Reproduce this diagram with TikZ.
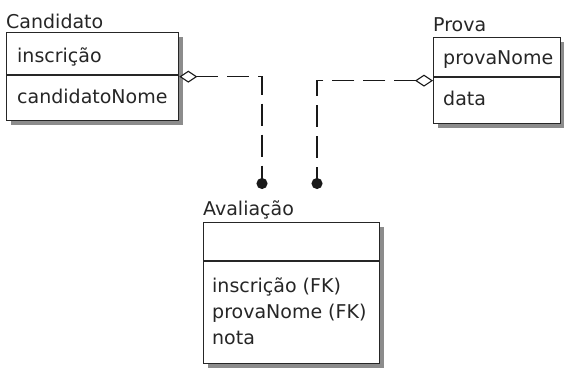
\documentclass[tikz,border=0pt]{standalone}
\usepackage{fontspec}
\setmainfont{DejaVu Sans}
\usetikzlibrary{arrows.meta,shadows,positioning}

\begin{document}
\begin{tikzpicture}[
  x=1pt,y=-1pt,
  line join=miter,
  entity/.style={draw=black!85,fill=white,line width=1.3pt,anchor=north west,
    inner sep=0pt,
    drop shadow={shadow xshift=4.5pt,shadow yshift=-4.5pt,fill=black!45,opacity=1}},
  divider/.style={draw=black!85,line width=1.3pt},
  entname/.style={anchor=base west,inner sep=0pt,text=black!85,font=\fontsize{19}{22}\selectfont},
  attr/.style={anchor=base west,inner sep=0pt,text=black!85,font=\fontsize{19}{22}\selectfont},
  relline/.style={black!90,line width=1.4pt,dash pattern=on 22pt off 9pt,
    {Diamond[open,fill=white,length=18pt,width=12pt,line width=1.1pt]}-{Circle[length=11pt]}}
]
\path[use as bounding box] (0,0) rectangle (564,367);

% entities
\node[entity,minimum width=172pt,minimum height=88pt] (cand) at (6,32) {};
\node[entity,minimum width=127pt,minimum height=86pt] (prova) at (433,37) {};
\node[entity,minimum width=176pt,minimum height=141pt] (aval) at (203,222) {};

\draw[divider] (cand.west |- 0,75) -- (cand.east |- 0,75);
\draw[divider] (prova.west |- 0,77) -- (prova.east |- 0,77);
\draw[divider] (aval.west |- 0,261) -- (aval.east |- 0,261);

\node[entname] (candname) at (6,28) {Candidato};
\node[entname] (provaname) at (433,31) {Prova};
\node[entname] (avalname) at (203,215) {Avaliação};

\node[attr] (candinsc) at (17,62) {inscrição};
\node[attr] (candnome) at (17,103) {candidatoNome};
\node[attr] (provanome) at (443,64) {provaNome};
\node[attr] (provadata) at (443,105) {data};
\node[attr] (avalinsc) at (212,292) {inscrição (FK)};
\node[attr] (avalprova) at (212,318) {provaNome (FK)};
\node[attr] (avalnota) at (212,344) {nota};

% relationships
\coordinate (candend) at (262,189);
\coordinate (provaend) at (317,189);
\draw[relline] (cand.east) -| (candend);
\draw[relline] (prova.west) -| (provaend);
\end{tikzpicture}
\end{document}
